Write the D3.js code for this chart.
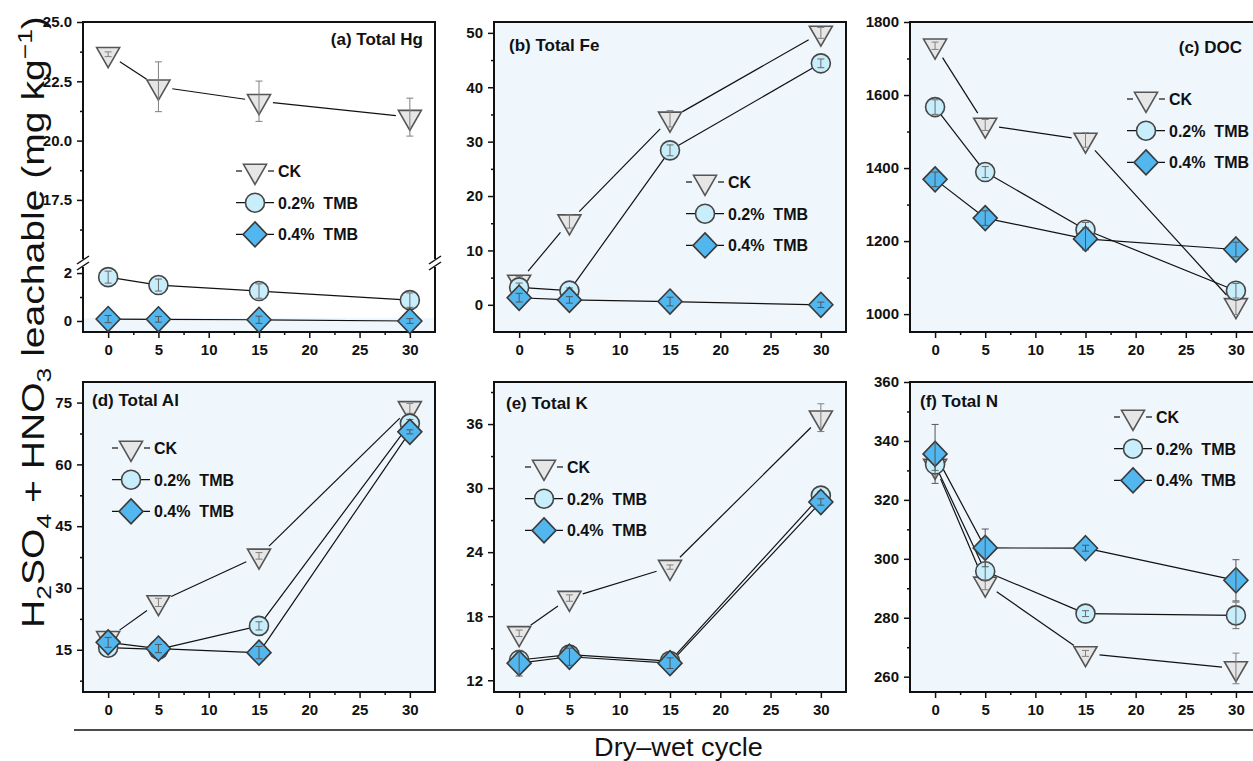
<!DOCTYPE html>
<html><head><meta charset="utf-8">
<script src="https://cdn.jsdelivr.net/npm/d3@7"></script>
<style>
body{margin:0;background:#fff}
svg{display:block}
text{font-family:"Liberation Sans",Arial,sans-serif}
</style>
</head><body>
<svg id="chart" width="1253" height="761"></svg>
<script>
// ---------------- DATA ----------------
const cycles = [0, 5, 15, 30];
const seriesNames = ["CK", "0.2%\u00a0\u00a0TMB", "0.4%\u00a0\u00a0TMB"];
const panelTitles = ["(a) Total Hg", "(b) Total Fe", "(c) DOC", "(d) Total Al", "(e) Total K", "(f) Total N"];
const xTickValues = [0, 5, 10, 15, 20, 25, 30];

// (a) Total Hg
const hgCK = [23.64, 22.27, 21.66, 20.99];
const hgCKErr = [0.1, 1.05, 0.85, 0.8];
const hgT02 = [1.83, 1.5, 1.25, 0.87];
const hgT02Err = [0.25, 0.25, 0.3, 0.3];
const hgT04 = [0.08, 0.07, 0.05, 0.0];
const hgT04Err = [0.15, 0.12, 0.15, 0.1];
const hgTicksUpper = [17.5, 20.0, 22.5, 25.0];
const hgTicksLower = [0, 2];

// (b) Total Fe
const feCK = [4.2, 15.3, 34.2, 50.0];
const feCKErr = [1.0, 1.2, 1.5, 1.0];
const feT02 = [3.2, 2.6, 28.4, 44.4];
const feT02Err = [0.8, 0.5, 1.0, 0.8];
const feT04 = [1.3, 0.9, 0.6, 0.0];
const feT04Err = [0.8, 0.6, 0.8, 0.5];
const feTicks = [0, 10, 20, 30, 40, 50];

// (c) DOC
const docCK = [1735, 1518, 1477, 1024];
const docCKErr = [10, 15, 20, 25];
const docT02 = [1567, 1389, 1231, 1064];
const docT02Err = [20, 15, 20, 20];
const docT04 = [1369, 1263, 1206, 1177];
const docT04Err = [20, 20, 30, 20];
const docTicks = [1000, 1200, 1400, 1600, 1800];

// (d) Total Al
const alCK = [17.8, 26.5, 37.8, 73.6];
const alCKErr = [0.5, 1.0, 0.8, 1.2];
const alT02 = [15.5, 15.1, 20.8, 69.9];
const alT02Err = [0.5, 0.5, 1.0, 1.0];
const alT04 = [16.8, 15.3, 14.3, 67.9];
const alT04Err = [1.2, 1.0, 1.5, 0.5];
const alTicks = [15, 30, 45, 60, 75];

// (e) Total K
const kCK = [16.4, 19.7, 22.6, 36.6];
const kCKErr = [0.3, 0.3, 0.2, 1.3];
const kT02 = [13.9, 14.4, 13.8, 29.3];
const kT02Err = [0.5, 0.6, 0.8, 0.4];
const kT04 = [13.6, 14.2, 13.6, 28.7];
const kT04Err = [1.2, 0.8, 0.5, 0.3];
const kTicks = [12, 18, 24, 30, 36];

// (f) Total N
const nCK = [331.5, 291.5, 267.9, 262.8];
const nCKErr = [2, 2, 1, 5.2];
const nT02 = [332, 295.8, 281.4, 280.8];
const nT02Err = [2, 3, 1, 4.5];
const nT04 = [335.6, 303.7, 303.6, 292.7];
const nT04Err = [10, 6.4, 1, 7];
const nTicks = [260, 280, 300, 320, 340, 360];

// ---------------- LAYOUT / STYLE ----------------
const svg = d3.select("#chart");
const BG = "#eff7fd";
const styles = [
  {fill: "#e6e6e6", stroke: "#555", err: "#808080", path: "M-11.5,-6.7L11.5,-6.7L0,13.3Z", gap: 14},
  {fill: "#c8eefb", stroke: "#454545", err: "#6a6a6a", path: "M9.5,0A9.5,9.5 0 1,1 -9.5,0A9.5,9.5 0 1,1 9.5,0Z", gap: 0},
  {fill: "#52b7ee", stroke: "#3a3a3a", err: "#555", path: "M0,-12.5L12,0L0,12.5L-12,0Z", gap: 0}
];

function minorBetween(ticks, extraLow, extraHigh) {
  const out = [];
  for (let i = 0; i < ticks.length - 1; i++) out.push((ticks[i] + ticks[i + 1]) / 2);
  const st = ticks[1] - ticks[0];
  if (extraLow) out.unshift(ticks[0] - st / 2);
  if (extraHigh) out.push(ticks[ticks.length - 1] + st / 2);
  return out;
}

const panels = [
  {title: panelTitles[0], x0: 83, x1: 435, y0: 22, y1: 332, broken: true,
   upper: [14.84, 25], lower: [-0.46, 2.42], yBreak: 263,
   ticksUp: hgTicksUpper, ticksLow: hgTicksLower, fmtUp: d3.format(".1f"), fmtLow: d3.format("d"),
   minorUp: [16.25, 18.75, 21.25, 23.75], minorLow: [1],
   anchor: "end", tx: 423, ty: 45, lx: 255, ly: 171, bg: "#ffffff",
   data: [[hgCK, hgCKErr], [hgT02, hgT02Err], [hgT04, hgT04Err]]},
  {title: panelTitles[1], x0: 494, x1: 846, y0: 22, y1: 332, domain: [-5, 52],
   ticks: feTicks, minor: minorBetween(feTicks, false, false), fmt: d3.format("d"),
   anchor: "start", tx: 509, ty: 50.5, lx: 705, ly: 182, bg: BG,
   data: [[feCK, feCKErr], [feT02, feT02Err], [feT04, feT04Err]]},
  {title: panelTitles[2], x0: 910, x1: 1261, y0: 22, y1: 332, domain: [951, 1800],
   ticks: docTicks, minor: minorBetween(docTicks, false, false), fmt: d3.format("d"),
   anchor: "end", tx: 1242, ty: 52.5, lx: 1146, ly: 99, bg: BG,
   data: [[docCK, docCKErr], [docT02, docT02Err], [docT04, docT04Err]]},
  {title: panelTitles[3], x0: 83, x1: 435, y0: 382, y1: 692, domain: [4.75, 80],
   ticks: alTicks, minor: minorBetween(alTicks, true, false), fmt: d3.format("d"),
   anchor: "start", tx: 92, ty: 406, lx: 131, ly: 448, bg: BG,
   data: [[alCK, alCKErr], [alT02, alT02Err], [alT04, alT04Err]]},
  {title: panelTitles[4], x0: 494, x1: 846, y0: 382, y1: 692, domain: [10.9, 39.94],
   ticks: kTicks, minor: minorBetween(kTicks, false, true), fmt: d3.format("d"),
   anchor: "start", tx: 506, ty: 409, lx: 544, ly: 467, bg: BG,
   data: [[kCK, kCKErr], [kT02, kT02Err], [kT04, kT04Err]]},
  {title: panelTitles[5], x0: 910, x1: 1261, y0: 382, y1: 692, domain: [254.8, 360],
   ticks: nTicks, minor: minorBetween(nTicks, false, false), fmt: d3.format("d"),
   anchor: "start", tx: 920, ty: 406.5, lx: 1133, ly: 417, bg: BG,
   data: [[nCK, nCKErr], [nT02, nT02Err], [nT04, nT04Err]]}
];

function styleAxis(sel) {
  sel.select(".domain").remove();
  sel.selectAll(".tick line").attr("stroke", "#111").attr("stroke-width", 1.5);
  sel.selectAll(".tick text").attr("fill", "#111")
    .style("font-family", '"Liberation Sans", Arial, sans-serif')
    .style("font-weight", "bold").style("font-size", "15px");
}

function drawPanel(p) {
  const g = svg.append("g");
  const x = d3.scaleLinear().domain([-2.5, 32.5]).range([p.x0, p.x1]);
  let yf, yU, yL, y;
  if (p.broken) {
    yU = d3.scaleLinear().domain(p.upper).range([p.yBreak, p.y0]);
    yL = d3.scaleLinear().domain(p.lower).range([p.y1, p.yBreak]);
    yf = v => (v > p.lower[1] ? yU(v) : yL(v));
  } else {
    y = d3.scaleLinear().domain(p.domain).range([p.y1, p.y0]);
    yf = y;
  }

  g.append("rect").attr("x", p.x0).attr("y", p.y0)
    .attr("width", p.x1 - p.x0).attr("height", p.y1 - p.y0).attr("fill", p.bg);
  if (p.broken) {
    g.append("rect").attr("x", p.x0).attr("y", yL(0.12))
      .attr("width", p.x1 - p.x0).attr("height", p.y1 - yL(0.12)).attr("fill", BG);
  }

  if (p.broken) {
    const a1 = g.append("g").attr("transform", `translate(${p.x0},0)`)
      .call(d3.axisLeft(yU).tickValues(p.ticksUp).tickFormat(p.fmtUp).tickSize(6).tickPadding(5));
    styleAxis(a1);
    const a2 = g.append("g").attr("transform", `translate(${p.x0},0)`)
      .call(d3.axisLeft(yU).tickValues(p.minorUp).tickFormat("").tickSize(3));
    styleAxis(a2);
    const a3 = g.append("g").attr("transform", `translate(${p.x0},0)`)
      .call(d3.axisLeft(yL).tickValues(p.ticksLow).tickFormat(p.fmtLow).tickSize(6).tickPadding(5));
    styleAxis(a3);
    const a4 = g.append("g").attr("transform", `translate(${p.x0},0)`)
      .call(d3.axisLeft(yL).tickValues(p.minorLow).tickFormat("").tickSize(3));
    styleAxis(a4);
  } else {
    const a1 = g.append("g").attr("transform", `translate(${p.x0},0)`)
      .call(d3.axisLeft(y).tickValues(p.ticks).tickFormat(p.fmt).tickSize(6).tickPadding(5));
    styleAxis(a1);
    const a2 = g.append("g").attr("transform", `translate(${p.x0},0)`)
      .call(d3.axisLeft(y).tickValues(p.minor).tickFormat("").tickSize(3));
    styleAxis(a2);
  }
  const b1 = g.append("g").attr("transform", `translate(0,${p.y1})`)
    .call(d3.axisBottom(x).tickValues(xTickValues).tickFormat(d3.format("d")).tickSize(6).tickPadding(6));
  styleAxis(b1);
  const b2 = g.append("g").attr("transform", `translate(0,${p.y1})`)
    .call(d3.axisBottom(x).tickValues(minorBetween(xTickValues, false, false)).tickFormat("").tickSize(3));
  styleAxis(b2);

  g.append("rect").attr("x", p.x0).attr("y", p.y0)
    .attr("width", p.x1 - p.x0).attr("height", p.y1 - p.y0)
    .attr("fill", "none").attr("stroke", "#111").attr("stroke-width", 2);

  if (p.broken) {
    [p.x0, p.x1].forEach(ex => {
      g.append("rect").attr("x", ex - 3).attr("y", p.yBreak - 4).attr("width", 6).attr("height", 8).attr("fill", "#fff");
      [-3, 3].forEach(off => {
        g.append("line").attr("x1", ex - 6).attr("y1", p.yBreak + off + 4)
          .attr("x2", ex + 6).attr("y2", p.yBreak + off - 4)
          .attr("stroke", "#111").attr("stroke-width", 1.5);
      });
    });
  }

  p.data.forEach((d, si) => {
    const vals = d[0];
    const gap = styles[si].gap;
    for (let i = 0; i < vals.length - 1; i++) {
      const ax = x(cycles[i]), ay = yf(vals[i]);
      const bx = x(cycles[i + 1]), by = yf(vals[i + 1]);
      const len = Math.hypot(bx - ax, by - ay);
      const ux = (bx - ax) / len, uy = (by - ay) / len;
      g.append("line")
        .attr("x1", ax + ux * gap).attr("y1", ay + uy * gap)
        .attr("x2", bx - ux * gap).attr("y2", by - uy * gap)
        .attr("stroke", "#111").attr("stroke-width", 1.2);
    }
  });

  p.data.forEach((d, si) => {
    const vals = d[0], errs = d[1], st = styles[si];
    vals.forEach((v, i) => {
      g.append("path").attr("d", st.path)
        .attr("transform", `translate(${x(cycles[i])},${yf(v)})`)
        .attr("fill", st.fill).attr("stroke", st.stroke).attr("stroke-width", 1.6);
    });
    vals.forEach((v, i) => {
      const cx = x(cycles[i]);
      const yt = yf(v + errs[i]), yb = yf(v - errs[i]);
      const eb = g.append("g").attr("stroke", st.err).attr("stroke-width", 1);
      eb.append("line").attr("x1", cx).attr("x2", cx).attr("y1", yt).attr("y2", yb);
      eb.append("line").attr("x1", cx - 3.5).attr("x2", cx + 3.5).attr("y1", yt).attr("y2", yt);
      eb.append("line").attr("x1", cx - 3.5).attr("x2", cx + 3.5).attr("y1", yb).attr("y2", yb);
    });
  });

  g.append("text").attr("x", p.tx).attr("y", p.ty).attr("text-anchor", p.anchor)
    .attr("font-weight", "bold").attr("font-size", 17).attr("fill", "#111").text(p.title);

  seriesNames.forEach((name, si) => {
    const st = styles[si];
    const cx = p.lx, cy = p.ly + si * 31.7;
    if (si === 0) {
      g.append("line").attr("x1", cx - 19).attr("x2", cx - 13).attr("y1", cy).attr("y2", cy).attr("stroke", "#111").attr("stroke-width", 1.2);
      g.append("line").attr("x1", cx + 13).attr("x2", cx + 19).attr("y1", cy).attr("y2", cy).attr("stroke", "#111").attr("stroke-width", 1.2);
    } else {
      g.append("line").attr("x1", cx - 19).attr("x2", cx + 19).attr("y1", cy).attr("y2", cy).attr("stroke", "#111").attr("stroke-width", 1.2);
    }
    g.append("path").attr("d", st.path).attr("transform", `translate(${cx},${cy})`)
      .attr("fill", st.fill).attr("stroke", st.stroke).attr("stroke-width", 1.6);
    g.append("text").attr("x", cx + 23).attr("y", cy + 5.8)
      .attr("font-weight", "bold").attr("font-size", 16).attr("fill", "#111")
      .text(name);
  });
}

panels.forEach(drawPanel);

svg.append("line").attr("x1", 74).attr("x2", 1253).attr("y1", 730).attr("y2", 730)
  .attr("stroke", "#111").attr("stroke-width", 1.5);

const xl = svg.append("text").attr("x", 0).attr("y", 0).attr("text-anchor", "middle")
  .attr("font-size", 25).attr("fill", "#111").text("Dry\u2013wet cycle");
const xlLen = xl.node().getComputedTextLength();
xl.attr("transform", `translate(678.5,756) scale(${169 / xlLen},1)`);

const yl = svg.append("text").attr("x", 0).attr("y", 0).attr("text-anchor", "middle")
  .attr("font-size", 31).attr("fill", "#111");
yl.append("tspan").text("H");
yl.append("tspan").attr("dy", 7).attr("font-size", 21).text("2");
yl.append("tspan").attr("dy", -7).text("SO");
yl.append("tspan").attr("dy", 7).attr("font-size", 21).text("4");
yl.append("tspan").attr("dy", -7).text(" + HNO");
yl.append("tspan").attr("dy", 7).attr("font-size", 21).text("3");
yl.append("tspan").attr("dy", -7).text(" leachable (mg kg");
yl.append("tspan").attr("dy", -12).attr("font-size", 21).text("\u22121");
yl.append("tspan").attr("dy", 12).text(")");
const ylLen = yl.node().getComputedTextLength();
yl.attr("transform", `translate(44,322) rotate(-90) scale(${612 / ylLen},1)`);
</script>
</body></html>
